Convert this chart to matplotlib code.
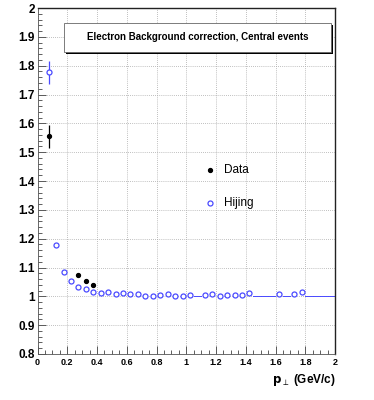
import numpy as np
import matplotlib
matplotlib.use("Agg")
import matplotlib.pyplot as plt
from matplotlib.patches import Rectangle
from matplotlib.ticker import MultipleLocator

# ---- data ----
hij_x = [0.075, 0.125, 0.175, 0.225, 0.275, 0.325, 0.375, 0.425, 0.475, 0.525,
         0.575, 0.625, 0.675, 0.725, 0.775, 0.825, 0.875, 0.925, 0.975, 1.025,
         1.125, 1.175, 1.225, 1.275, 1.325, 1.375, 1.425, 1.625, 1.725, 1.775]
hij_y = [1.777, 1.177, 1.083, 1.052, 1.034, 1.026, 1.015, 1.012, 1.014, 1.007,
         1.011, 1.008, 1.007, 1.002, 1.002, 1.006, 1.009, 1.001, 1.001, 1.005,
         1.006, 1.007, 1.002, 1.006, 1.004, 1.004, 1.012, 1.009, 1.008, 1.015]
hij_err = [0.04, 0.004, 0.002, 0.002, 0.002, 0.002, 0.002, 0.002, 0.002, 0.002,
           0.002, 0.002, 0.002, 0.002, 0.002, 0.002, 0.002, 0.002, 0.002, 0.002,
           0.003, 0.003, 0.003, 0.003, 0.003, 0.003, 0.004, 0.005, 0.006, 0.008]
empty_bins = [1.075, 1.475, 1.525, 1.575, 1.675, 1.825, 1.875, 1.925, 1.975]

data_x = [0.075, 0.275, 0.325, 0.375]
data_y = [1.555, 1.075, 1.052, 1.039]
data_err = [0.04, 0.003, 0.003, 0.003]

title = "Electron Background correction, Central events"
xlabel_txt = r"$\mathbf{p}_{\perp}$ (GeV/c)"

plt.rcParams['font.family'] = ['Liberation Sans', 'DejaVu Sans']

fig = plt.figure(figsize=(3.74, 4.0), dpi=100)
ax = fig.add_axes([37.5/374, 1-354/400, (335-37.5)/374, (354-8)/400])

ax.set_xlim(0, 2)
ax.set_ylim(0.8, 2.0)

blue = '#4a4aff'
# empty-bin line at 1
for xb in empty_bins:
    ax.plot([xb-0.025, xb+0.025], [1.0, 1.0], color=blue, lw=0.7, zorder=2)

ax.errorbar(hij_x, hij_y, yerr=hij_err, fmt='o', ms=3.6, mfc='white', mec=blue,
            mew=0.9, ecolor=blue, elinewidth=0.9, capsize=0, zorder=3)
ax.errorbar(data_x, data_y, yerr=data_err, fmt='o', ms=2.8, color='black',
            ecolor='black', elinewidth=0.9, capsize=0, zorder=4)

# legend (manual, no frame)
ax.plot([1.16], [1.4375], 'o', ms=2.8, color='black')
ax.plot([1.16], [1.324], 'o', ms=3.6, mfc='white', mec=blue, mew=0.9)
ax.text(1.255, 1.4375, "Data", fontsize=8.5, va='center', ha='left')
ax.text(1.255, 1.324, "Hijing", fontsize=8.5, va='center', ha='left')

# grid
ax.xaxis.set_major_locator(MultipleLocator(0.2))
ax.xaxis.set_minor_locator(MultipleLocator(0.05))
ax.yaxis.set_major_locator(MultipleLocator(0.1))
ax.yaxis.set_minor_locator(MultipleLocator(0.02))
ax.grid(True, which='major', color='#aaaaaa', linestyle=(0, (1, 1.5)), lw=0.6)
ax.set_axisbelow(True)

ax.tick_params(axis='both', which='major', direction='in', length=6, width=0.6,
               color='#444444', top=False, right=False)
ax.tick_params(axis='both', which='minor', direction='in', length=3, width=0.6,
               color='#444444', top=False, right=False)
ax.tick_params(axis='y', which='major', labelsize=8.5, pad=2)
ax.tick_params(axis='x', which='major', labelsize=6.5, pad=3)

def fmt(v):
    s = ('%.1f' % v)
    if s.endswith('.0'):
        s = s[:-2]
    return s
ax.set_xticks(np.arange(0, 2.01, 0.2))
ax.set_xticklabels([fmt(v) for v in np.arange(0, 2.01, 0.2)], fontweight='bold')
ax.set_yticks(np.arange(0.8, 2.001, 0.1))
ax.set_yticklabels([fmt(v) for v in np.arange(0.8, 2.001, 0.1)], fontweight='bold')

for s in ['left', 'bottom']:
    ax.spines[s].set_linewidth(0.6)
    ax.spines[s].set_color('#555555')
for s in ['top', 'right']:
    ax.spines[s].set_linewidth(1.0)
    ax.spines[s].set_color('#222222')

# title box with shadow
tx0, tx1 = 64/374, 331/374
ty0, ty1 = 1-52/400, 1-23/400
shadow = Rectangle((tx0+2/374, ty0-2/400), tx1-tx0, ty1-ty0, transform=fig.transFigure,
                   facecolor='black', edgecolor='none', zorder=5)
box = Rectangle((tx0, ty0), tx1-tx0, ty1-ty0, transform=fig.transFigure,
                facecolor='white', edgecolor='#666666', lw=0.6, zorder=6)
fig.add_artist(shadow)
fig.add_artist(box)
fig.text((tx0+tx1)/2, (ty0+ty1)/2, title, fontsize=7.0, fontweight='bold',
         ha='center', va='center', zorder=7)

fig.text(336/374, 1-380/400, xlabel_txt, fontsize=8.5, fontweight='bold',
         ha='right', va='center')

fig.savefig('out.png', dpi=100, facecolor='white')
